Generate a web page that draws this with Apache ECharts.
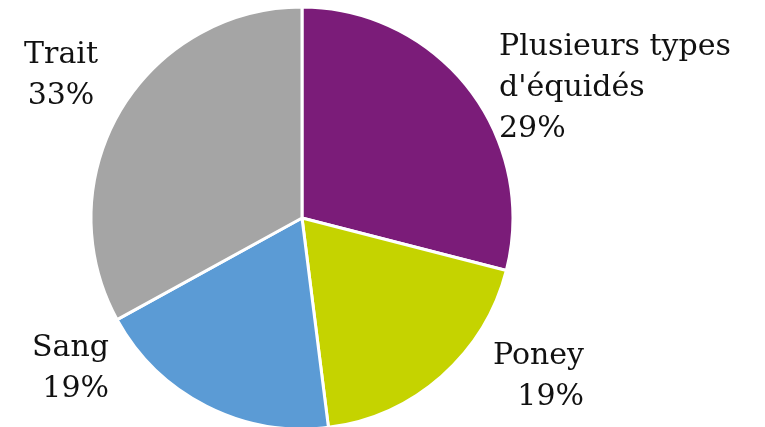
<!DOCTYPE html>
<html>
<head>
<meta charset="utf-8">
<script src="https://cdn.jsdelivr.net/npm/echarts@6/dist/echarts.min.js"></script>
<style>
html, body { margin: 0; padding: 0; background: #fff; }
#chart { width: 765px; height: 427px; }
</style>
</head>
<body>
<div id="chart"></div>
<script>
// parts, clockwise from the top
var categories = ["Plusieurs types\nd'équidés", 'Poney', 'Sang', 'Trait'];
var shares = [29, 19, 19, 33];
var colors = ['#7b1c79', '#c5d300', '#5b9bd5', '#a5a5a5'];

// where each label sits (x, y of the text block, alignment)
var labelPos = [
  { x: 499, y: 88, align: 'left' },
  { x: 584, y: 377, align: 'right' },
  { x: 109, y: 369, align: 'right' },
  { x: 61, y: 76, align: 'center' }
];

var myChart = echarts.init(document.getElementById('chart'));

myChart.setOption({
  animation: false,
  series: [{
    type: 'pie',
    center: [302, 218],
    radius: 211,
    startAngle: 90,
    clockwise: true,
    data: categories.map(function (c, i) {
      return { name: c, value: shares[i], itemStyle: { color: colors[i] } };
    }),
    itemStyle: {
      borderColor: '#fff',
      borderWidth: 3
    },
    label: {
      show: true,
      position: 'outside',
      overflow: 'none',
      formatter: function (p) {
        return p.name + '\n' + p.value + '%';
      },
      fontFamily: 'DejaVu Serif',
      fontSize: 30,
      lineHeight: 41,
      color: '#111'
    },
    labelLine: { show: false },
    labelLayout: function (p) {
      var lp = labelPos[p.dataIndex];
      return {
        x: lp.x,
        y: lp.y,
        align: lp.align,
        verticalAlign: 'middle',
        width: 300
      };
    }
  }]
});
</script>
</body>
</html>
